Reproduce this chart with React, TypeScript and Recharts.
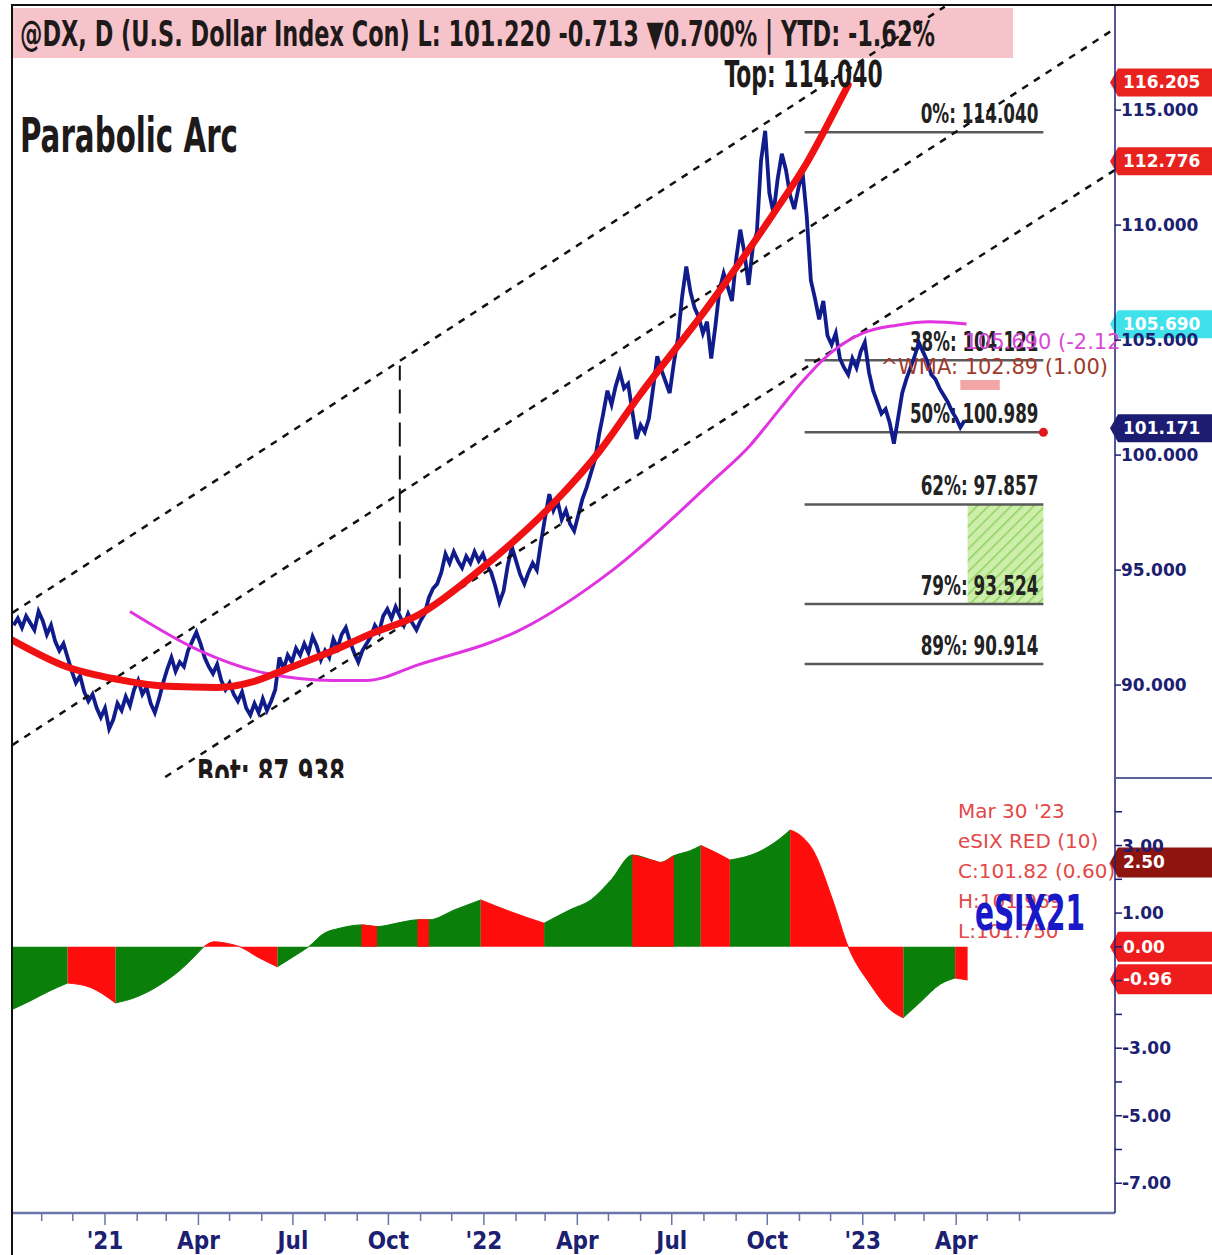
import React from 'react';
import { ComposedChart, Line, Area, XAxis, YAxis, ReferenceLine, ReferenceDot, ReferenceArea } from 'recharts';

const NARROW = '"Liberation Sans Narrow", "Arial Narrow", "DejaVu Sans Condensed", sans-serif';
const SANS = '"DejaVu Sans", Verdana, sans-serif';
const NAVY = '#1c2070';

// x values are days since 1 Jan 2021
const X_DOMAIN: [number, number] = [-89.6, 973];
const PRICE_DOMAIN: [number, number] = [85.96, 119.57];
const OSC_DOMAIN: [number, number] = [-7.88, 5.0];

// closes sampled every 4 days from early Oct 2020
const PRICE_START_DAY = -88;
const PRICE_STEP_DAYS = 4;
const priceCloses = [
  92.6, 92.9, 92.5, 93.0, 92.7, 92.4, 93.2, 92.8, 92.2, 92.6,
  91.9, 91.5, 91.8, 91.2, 90.6, 90.1, 90.4, 89.7, 89.3, 89.6,
  89.0, 88.6, 89.0, 88.1, 88.5, 89.2, 88.9, 89.5, 89.1, 89.8,
  90.2, 89.6, 89.9, 89.2, 88.8, 89.4, 90.1, 90.7, 91.2, 90.6,
  91.0, 90.8, 91.5, 91.9, 92.3, 91.8, 91.2, 90.8, 90.5, 90.9,
  90.2, 89.8, 90.1, 89.6, 89.3, 89.7, 89.0, 88.7, 89.2, 88.8,
  89.4, 88.9, 89.3, 89.8, 91.2, 90.7, 91.3, 91.0, 91.6, 91.3,
  91.8, 91.4, 92.1, 91.7, 91.1, 91.5, 91.2, 92.0, 91.6, 92.2,
  92.5, 91.9, 91.4, 91.0, 91.5, 91.8, 92.1, 92.6, 92.3, 93.0,
  93.3, 92.9, 93.4, 93.0, 92.6, 93.1, 92.7, 92.4, 92.8, 93.1,
  93.8, 94.2, 94.4, 94.9, 95.7, 95.3, 95.8, 95.4, 95.1, 95.6,
  95.3, 95.8, 95.4, 95.7, 95.2, 94.9, 94.3, 93.6, 94.1, 95.2,
  96.0, 95.4, 94.8, 94.4, 94.9, 95.3, 95.0, 96.2, 97.3, 98.3,
  97.6, 98.0, 97.2, 97.6, 97.0, 96.7, 97.4, 98.1, 98.6, 99.2,
  99.8, 100.9, 101.8, 102.8, 102.2, 103.0, 103.6, 102.9, 103.1, 101.9,
  100.7, 101.3, 101.0, 101.6, 102.9, 104.3, 103.7, 103.2, 102.7, 104.0,
  105.1, 106.9, 108.2, 107.1, 106.4, 106.0, 105.3, 105.8, 104.2, 105.6,
  107.2, 107.9, 107.3, 106.7, 108.5, 109.8, 108.8, 107.4, 109.0, 109.7,
  112.8, 114.1, 111.4, 110.5, 112.0, 113.1, 112.4, 111.3, 110.7, 111.6,
  112.3, 110.4, 107.6, 106.8, 105.9, 106.7, 105.2, 104.8, 105.3, 104.2,
  103.8, 103.5, 104.2, 103.8, 104.5, 104.9, 103.6, 102.8, 102.3, 101.8,
  102.0, 101.4, 100.5, 101.6, 102.7, 103.3, 103.8, 104.3, 104.9, 104.5,
  104.1, 103.5, 103.3, 102.9, 102.6, 102.3, 101.9, 101.6, 101.2, 101.5,
];

// parabolic arc (red)
const arcDays = [-89, -37, 12, 60, 108, 143, 172, 220, 252, 304, 361, 432, 477, 515, 580, 644, 676, 708, 716];
const arcValues = [91.95, 90.8, 90.25, 89.95, 89.9, 90.15, 90.65, 91.5, 92.15, 93.1, 95.0, 97.9, 100.2, 102.6, 106.4, 110.5, 112.7, 115.4, 116.1];

// weighted moving average (magenta)
const wmaDays = [24, 91, 156, 220, 252, 303, 400, 489, 586, 621, 650, 670, 698, 730, 763, 795, 830];
const wmaValues = [93.2, 91.5, 90.5, 90.2, 90.2, 90.9, 92.4, 95.0, 98.9, 100.4, 102.0, 103.1, 104.4, 105.3, 105.65, 105.8, 105.7];

// dashed channel
const upperChannelDays = [-89, 809];
const upperChannelValues = [93.15, 119.5];
const middleChannelDays = [-89, 973];
const middleChannelValues = [87.4, 118.55];
const lowerChannelDays = [58, 973];
const lowerChannelValues = [86.0, 112.4];
const measureDay = 284;
const measureValues = [93.2, 103.9];

// fibonacci retracement
const fibNames = ['0%', '38%', '50%', '62%', '79%', '89%'];
const fibValues = [114.04, 104.121, 100.989, 97.857, 93.524, 90.914];
const FIB_START_DAY = 674;
const FIB_END_DAY = 904;
const TARGET_START_DAY = 831;

const priceTicks = [90, 95, 100, 105, 110, 115];

// eSIX oscillator
const oscDays = [-90, -72, -53, -36, -14, 10, 29, 50, 72, 95, 105, 118, 130, 147, 166, 181, 196, 211, 226, 247, 262, 284, 301, 312, 337, 362, 390, 423, 448, 468, 488, 508, 529, 535, 548, 564, 574, 588, 602, 629, 650, 660, 670, 682, 701, 716, 737, 756, 769, 785, 805, 819, 831];
const oscValues = [-1.86, -1.6, -1.3, -1.07, -1.2, -1.66, -1.5, -1.18, -0.7, 0, 0.15, 0.1, 0, -0.3, -0.59, -0.3, 0, 0.4, 0.55, 0.65, 0.6, 0.72, 0.8, 0.8, 1.1, 1.39, 1.05, 0.7, 1.1, 1.39, 2.0, 2.72, 2.55, 2.5, 2.7, 2.85, 3.0, 2.8, 2.57, 2.8, 3.2, 3.46, 3.3, 2.87, 1.39, 0, -1.1, -1.85, -2.1, -1.65, -1.1, -0.92, -0.98];
const oscColors = 'gggrrggggrrrrrgggggrggrggrrggggrgrggrrgggrrrrrrrgggrr'.split('');
const oscTicks = [4, 3, 2, 1, 0, -1, -2, -3, -4, -5, -6, -7];
const oscLabelled = [3, 1, -3, -5, -7];

const monthTickLabels = ['', '', "'21", '', '', 'Apr', '', '', 'Jul', '', '', 'Oct', '', '', "'22", '', '', 'Apr', '', '', 'Jul', '', '', 'Oct', '', '', "'23", '', '', 'Apr', '', ''];
const monthTickDays = monthTickLabels.map((_, i) => {
  const m = 10 + i;
  return (Date.UTC(2020 + Math.floor(m / 12), m % 12, 1) - Date.UTC(2021, 0, 1)) / 86400000;
});

const priceRows = priceCloses.map((p, i) => ({ d: PRICE_START_DAY + i * PRICE_STEP_DAYS, v: p }));
const arcRows = arcDays.map((d, i) => ({ d, v: arcValues[i] }));
const wmaRows = wmaDays.map((d, i) => ({ d, v: wmaValues[i] }));
const pairRows = (days: number[], vals: number[]) => days.map((d, i) => ({ d, v: vals[i] }));
const oscRows = oscDays.map((d, i) => {
  const here = oscColors[i];
  const prev = i > 0 ? oscColors[i - 1] : here;
  const v = oscValues[i];
  return {
    d,
    green: here === 'g' || prev === 'g' ? v : null,
    red: here === 'r' || prev === 'r' ? v : null,
  };
});

const PriceTick = (props: any) => {
  const { x, y, payload } = props;
  return (
    <g>
      <line x1={x} y1={y} x2={x + 6} y2={y} stroke={NAVY} strokeWidth={1.5} />
      <text x={x + 6} y={y + 6} fill={NAVY} fontFamily={SANS} fontWeight="bold" fontSize={17}>
        {Number(payload.value).toFixed(3)}
      </text>
    </g>
  );
};

const OscTick = (props: any) => {
  const { x, y, payload } = props;
  const labelled = oscLabelled.includes(payload.value);
  return (
    <g>
      <line x1={x} y1={y} x2={x + 7} y2={y} stroke={NAVY} strokeWidth={1.5} />
      {labelled && (
        <text x={x + 7} y={y + 6} fill={NAVY} fontFamily={SANS} fontWeight="bold" fontSize={17}>
          {Number(payload.value).toFixed(2)}
        </text>
      )}
    </g>
  );
};

const MonthTick = (props: any) => {
  const { x, y, payload } = props;
  const label = monthTickLabels[monthTickDays.indexOf(payload.value)] || '';
  return (
    <g>
      <line x1={x} y1={y} x2={x} y2={y + (label ? 12 : 8)} stroke="#6a74a8" strokeWidth={1.5} />
      {label && (
        <text x={x} y={y + 36} textAnchor="middle" fill={NAVY} fontFamily={NARROW} fontWeight="bold" fontSize={24}>
          {label}
        </text>
      )}
    </g>
  );
};

const FibLabel = (props: any) => {
  const { viewBox, text } = props;
  return (
    <text
      x={viewBox.x + viewBox.width - 5}
      y={viewBox.y - 9}
      textAnchor="end"
      fill="#222"
      fontFamily={NARROW}
      fontWeight="bold"
      fontSize={27}
      textLength={text.length * 10.7}
      lengthAdjust="spacingAndGlyphs"
    >
      {text}
    </text>
  );
};

const badge = (text: string, fill: string, h: number) => (p: any) => {
  const y = p.y1;
  const x = Math.max(p.x1, p.x2);
  return (
    <g>
      <path d={`M${x - 5},${y} L${x + 3},${y - h / 2} L${x + 97},${y - h / 2} L${x + 97},${y + h / 2} L${x + 3},${y + h / 2} Z`} fill={fill} />
      <text x={x + 8} y={y + 6} fill="#fff" fontFamily={SANS} fontWeight="bold" fontSize={17}>{text}</text>
    </g>
  );
};

const note = (text: string, style: any, dy = 0) => (p: any) => (
  <text x={p.cx} y={p.cy + dy} {...style}>{text}</text>
);

const narrowBold = (size: number, width: number, anchor = 'start') => ({
  fontFamily: NARROW,
  fontWeight: 'bold',
  fontSize: size,
  fill: '#1e1a1a',
  textAnchor: anchor,
  textLength: width,
  lengthAdjust: 'spacingAndGlyphs',
});

export default function App() {
  return (
    <div style={{ position: 'absolute', left: 0, top: 0, width: 1212, height: 1255, background: '#fff', overflow: 'hidden' }}>
      <svg width={1212} height={1255} style={{ position: 'absolute', left: 0, top: 0 }}>
        <rect x={12} y={8} width={1001} height={50} fill="#f7c3cb" />
        <text x={20} y={46} {...(narrowBold(36, 915) as any)}>
          @DX, D (U.S. Dollar Index Con) L: 101.220 -0.713 ▼0.700% | YTD: -1.62%
        </text>
        <text x={20} y={152} {...(narrowBold(48, 218) as any)}>Parabolic Arc</text>
        {["Mar 30 '23", 'eSIX RED (10)', 'C:101.82 (0.60)', 'H:101.969', 'L:101.750'].map((t, i) => (
          <text key={t} x={958} y={818 + i * 30} fill="#e34848" fontFamily={SANS} fontSize={20}>{t}</text>
        ))}
        <text x={975} y={930} {...(narrowBold(50, 110) as any)} fill="#1818c8">eSIX21</text>
      </svg>

      <div style={{ position: 'absolute', left: 0, top: 0 }}>
        <ComposedChart width={1212} height={778} margin={{ top: 5, right: 0, bottom: 0, left: 12 }}>
          <defs>
            <pattern id="hatch" patternUnits="userSpaceOnUse" width={8} height={8} patternTransform="rotate(45)">
              <rect width={8} height={8} fill="#cdeeaa" />
              <line x1={0} y1={0} x2={0} y2={8} stroke="#8fd35e" strokeWidth={3} />
            </pattern>
          </defs>
          <XAxis dataKey="d" type="number" domain={X_DOMAIN} allowDataOverflow hide />
          <YAxis
            orientation="right"
            width={97}
            type="number"
            domain={PRICE_DOMAIN}
            allowDataOverflow
            ticks={priceTicks}
            interval={0}
            tick={<PriceTick />}
            tickLine={false}
            tickSize={0}
            tickMargin={0}
            axisLine={{ stroke: NAVY, strokeWidth: 1.5 }}
          />
          <ReferenceArea x1={TARGET_START_DAY} x2={FIB_END_DAY} y1={fibValues[4]} y2={fibValues[3]} fill="url(#hatch)" fillOpacity={1} stroke="none" />
          <ReferenceArea x1={824} x2={862} y1={102.83} y2={103.26} fill="#f2a6a6" fillOpacity={1} stroke="none" />
          {fibValues.map((v, i) => (
            <ReferenceLine
              key={fibNames[i]}
              segment={[{ x: FIB_START_DAY, y: v }, { x: FIB_END_DAY, y: v }]}
              stroke="#5a5a5a"
              strokeWidth={2.5}
              label={<FibLabel text={`${fibNames[i]}: ${v.toFixed(3)}`} />}
            />
          ))}
          <ReferenceLine
            segment={[{ x: measureDay, y: measureValues[0] }, { x: measureDay, y: measureValues[1] }]}
            stroke="#111"
            strokeWidth={2}
            strokeDasharray="24 9"
          />
          <Line data={priceRows} dataKey="v" type="linear" stroke="#101c8c" strokeWidth={3.8} strokeLinejoin="miter" dot={false} activeDot={false} isAnimationActive={false} />
          {[
            pairRows(upperChannelDays, upperChannelValues),
            pairRows(middleChannelDays, middleChannelValues),
            pairRows(lowerChannelDays, lowerChannelValues),
          ].map((rows, i) => (
            <Line key={i} data={rows} dataKey="v" type="linear" stroke="#111" strokeWidth={2.5} strokeDasharray="7 7" dot={false} activeDot={false} isAnimationActive={false} />
          ))}
          <Line data={wmaRows} dataKey="v" type="monotone" stroke="#e034e0" strokeWidth={3} dot={false} activeDot={false} isAnimationActive={false} />
          <Line data={arcRows} dataKey="v" type="monotone" stroke="#f01212" strokeWidth={7} strokeLinecap="round" dot={false} activeDot={false} isAnimationActive={false} />
          <ReferenceDot x={FIB_END_DAY} y={fibValues[2]} r={4.5} fill="#e01818" stroke="none" />
          <ReferenceDot x={673} y={116.0} r={0} shape={note('Top: 114.040', narrowBold(38, 158, 'middle'))} />
          <ReferenceDot x={160} y={86.3} r={0} shape={note('Bot: 87.938', narrowBold(38, 148, 'middle'), 16)} />
          <ReferenceDot x={747} y={103.52} r={0} shape={note('^WMA: 102.89 (1.00)', { fill: '#a03a2c', fontFamily: SANS, fontSize: 21 })} />
          <ReferenceDot x={828} y={104.6} r={0} shape={note('105.690 (-2.12', { fill: '#d848d8', fontFamily: SANS, fontSize: 21 })} />
          <ReferenceLine y={116.205} stroke="none" shape={badge('116.205', '#e8231f', 28)} />
          <ReferenceLine y={112.776} stroke="none" shape={badge('112.776', '#e8231f', 28)} />
          <ReferenceLine y={105.69} stroke="none" shape={badge('105.690', '#3fe2ea', 28)} />
          <ReferenceLine y={101.171} stroke="none" shape={badge('101.171', '#1c1c72', 28)} />
        </ComposedChart>
      </div>

      <div style={{ position: 'absolute', left: 0, top: 778 }}>
        <ComposedChart width={1212} height={477} margin={{ top: 0, right: 0, bottom: 0, left: 12 }}>
          <XAxis
            dataKey="d"
            type="number"
            domain={X_DOMAIN}
            allowDataOverflow
            ticks={monthTickDays}
            interval={0}
            tick={<MonthTick />}
            tickLine={false}
            tickSize={0}
            tickMargin={0}
            height={42}
            axisLine={{ stroke: '#6a74a8', strokeWidth: 2.5 }}
          />
          <YAxis
            orientation="right"
            width={97}
            type="number"
            domain={OSC_DOMAIN}
            allowDataOverflow
            ticks={oscTicks}
            interval={0}
            tick={<OscTick />}
            tickLine={false}
            tickSize={0}
            tickMargin={0}
            axisLine={{ stroke: NAVY, strokeWidth: 1.5 }}
          />
          <Area data={oscRows} dataKey="green" type="monotone" baseValue={0} fill="#0a800a" fillOpacity={1} stroke="#0a800a" strokeWidth={1} dot={false} activeDot={false} isAnimationActive={false} />
          <Area data={oscRows} dataKey="red" type="monotone" baseValue={0} fill="#ff0c0c" fillOpacity={1} stroke="#ff0c0c" strokeWidth={1} dot={false} activeDot={false} isAnimationActive={false} />
          <ReferenceLine y={2.5} stroke="none" shape={badge('2.50', '#8e1410', 30)} />
          <ReferenceLine y={0} stroke="none" shape={badge('0.00', '#ee1c1c', 30)} />
          <ReferenceLine y={-0.96} stroke="none" shape={badge('-0.96', '#ee1c1c', 30)} />
        </ComposedChart>
      </div>

      <div style={{ position: 'absolute', left: 11, top: 4, width: 1201, height: 2, background: '#111' }} />
      <div style={{ position: 'absolute', left: 11, top: 4, width: 2, height: 1251, background: '#111' }} />
      <div style={{ position: 'absolute', left: 1115, top: 777, width: 97, height: 2, background: '#5a64a0' }} />
    </div>
  );
}
